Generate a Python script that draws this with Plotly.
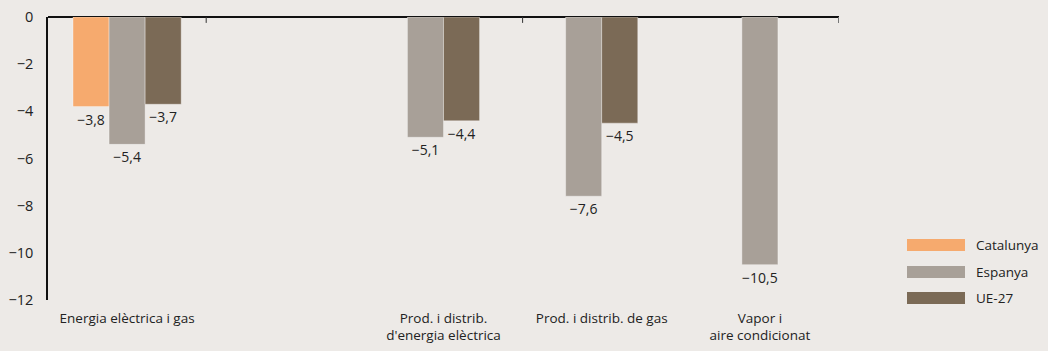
import plotly.graph_objects as go

categories = ["Energia elèctrica i gas", " ", "Prod. i distrib.<br>d'energia elèctrica",
              "Prod. i distrib. de gas", "Vapor i<br>aire condicionat"]
series_names = ["Catalunya", "Espanya", "UE-27"]
catalunya = [-3.8, None, None, None, None]
espanya = [-5.4, None, -5.1, -7.6, -10.5]
ue27 = [-3.7, None, -4.4, -4.5, None]
series_values = [catalunya, espanya, ue27]
colors = ["#f6aa6e", "#a8a098", "#7b6a56"]
y_ticks = [0, -2, -4, -6, -8, -10, -12]

BG = "#edeae7"
FONT = "Open Sans, Noto Sans, sans-serif"
w = 0.228


def fmt(v):
    return f"{v:.1f}".replace(".", ",").replace("-", "\u2212")


# compute centered offsets per category
offsets = [[None] * len(categories) for _ in series_values]
for ci in range(len(categories)):
    present = [si for si, s in enumerate(series_values) if s[ci] is not None]
    n = len(present)
    for k, si in enumerate(present):
        offsets[si][ci] = -n * w / 2 + k * w

fig = go.Figure()
for si, (name, vals) in enumerate(zip(series_names, series_values)):
    xs, ys, offs, txt = [], [], [], []
    for ci, v in enumerate(vals):
        if v is None:
            continue
        xs.append(categories[ci])
        ys.append(v)
        offs.append(offsets[si][ci])
        txt.append(fmt(v))
    fig.add_trace(go.Bar(
        x=xs, y=ys, name=name, offset=offs, width=w,
        marker=dict(color=colors[si], line=dict(color="rgba(255,255,255,0.35)", width=1)),
        text=txt, textposition="outside", cliponaxis=False,
        textfont=dict(family=FONT, size=14, color="#222"),
        showlegend=False,
    ))

shapes = []
for xb in [0.5, 2.5]:
    shapes.append(dict(type="line", xref="x", yref="y", x0=xb, x1=xb, y0=0, y1=-0.25,
                       line=dict(color="#333", width=1)))
shapes.append(dict(type="line", xref="x", yref="y", x0=4.5, x1=4.5, y0=0, y1=-0.25,
                   line=dict(color="#777", width=2)))

annotations = []
leg_y = [245, 272, 298]
for i, name in enumerate(series_names):
    yc = 1 - (leg_y[i] - 17) / (300 - 17)
    shapes.append(dict(type="rect", xref="paper", yref="paper",
                       x0=(907 - 48) / (839 - 48), x1=(965 - 48) / (839 - 48),
                       y0=yc - 6 / 283, y1=yc + 6 / 283,
                       fillcolor=colors[i], line=dict(width=0)))
    annotations.append(dict(xref="paper", yref="paper", x=(974 - 48) / (839 - 48), y=yc,
                            text=name, showarrow=False, xanchor="left", yanchor="middle",
                            font=dict(family=FONT, size=13.5, color="#222")))

fig.update_layout(
    width=1048, height=351,
    margin=dict(l=48, r=209, t=17, b=51, autoexpand=False),
    paper_bgcolor=BG, plot_bgcolor=BG,
    barmode="overlay",
    showlegend=False,
    shapes=shapes, annotations=annotations,
    font=dict(family=FONT, size=13.5, color="#222"),
    xaxis=dict(type="category", categoryorder="array", categoryarray=categories,
               range=[-0.5, 4.5], showline=False, showgrid=False, ticks="",
               ticklabelstandoff=8,
               tickfont=dict(family=FONT, size=13.5, color="#222"), fixedrange=True),
    yaxis=dict(range=[-12, 0], tickvals=y_ticks,
               ticktext=[str(t).replace("-", "\u2212") for t in y_ticks],
               showline=True, linecolor="#111", linewidth=1.5, showgrid=False,
               zeroline=True, zerolinecolor="#111", zerolinewidth=1.5,
               ticks="", ticklabelstandoff=10,
               tickfont=dict(family=FONT, size=14.5, color="#222")),
)

fig.write_html("out.html", config={"displayModeBar": False},
               post_script="document.body.style.margin='0px';document.body.style.overflow='hidden';")
